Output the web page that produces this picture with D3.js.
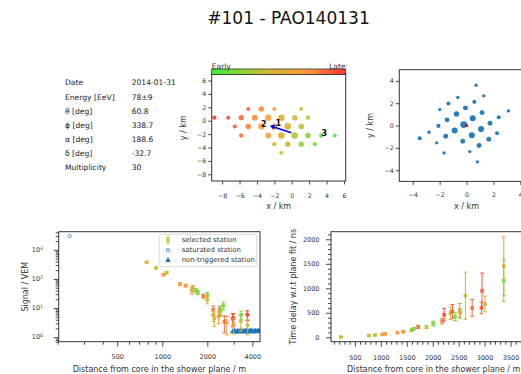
<!DOCTYPE html>
<html>
<head>
<meta charset="utf-8">
<script src="https://cdn.jsdelivr.net/npm/d3@7"></script>
<style>
  body { margin: 0; background: #fff; }
  svg { font-family: "DejaVu Sans", sans-serif; }
</style>
</head>
<body>
<svg id="chart" width="521" height="374"></svg>
<script>
// ---------------- event summary ----------------
const eventTitle = "#101 - PAO140131";
const infoLabels = ["Date", "Energy [EeV]", "θ [deg]", "ϕ [deg]", "α [deg]", "δ [deg]", "Multiplicity"];
const infoValues = ["2014-01-31", "78±9", "60.8", "338.7", "188.6", "-32.7", "30"];

// ---------------- array map (ground coordinates, km) ----------------
const mapX = [-5.0, -3.5, -2.0, 1.1,
              -8.9, -7.3, -5.8, -4.25, -2.7, -1.2, 0.35, 1.85,
              -6.55, -5.0, -3.5, -2.0, -0.45, 1.1,
              -5.8, -2.7, -1.2, 0.35, 1.85, 3.4, 4.95,
              -2.0, -0.45, 1.1, 2.65,
              -1.2];
const mapY = [1.75, 1.75, 1.75, 1.75,
              0.45, 0.45, 0.45, 0.45, 0.45, 0.45, 0.45, 0.45,
              -0.85, -0.85, -0.85, -0.85, -0.85, -0.85,
              -2.2, -2.2, -2.2, -2.2, -2.2, -2.2, -2.2,
              -3.5, -3.5, -3.5, -3.5,
              -4.8];
const mapSignal = [5, 30, 4, 4,
                   6, 4, 25, 45, 110, 130, 30, 5,
                   4, 30, 90, 40, 160, 35,
                   8, 45, 150, 130, 30, 8, 4,
                   5, 25, 25, 6,
                   4];
// relative arrival time: 0 = early, 1 = late
const mapTime = [0.86, 0.74, 0.70, 0.42,
                 1.00, 0.94, 0.84, 0.76, 0.68, 0.58, 0.46, 0.34,
                 0.90, 0.78, 0.70, 0.64, 0.50, 0.36,
                 0.82, 0.66, 0.52, 0.32, 0.22, 0.12, 0.02,
                 0.48, 0.38, 0.24, 0.14,
                 0.44];
const mapTickValues = [-8, -6, -4, -2, 0, 2, 4, 6];
const axisStart = [-0.04, -1.8];   // shower axis projection (tail)
const axisEnd = [-2.53, -0.75];    // shower axis projection (head)
const mapMarkers = [{ t: "1", x: -1.55, y: -0.4 }, { t: "2", x: -3.2, y: -0.5 }, { t: "3", x: 3.75, y: -1.8 }];

// ---------------- shower plane coordinates (km) ----------------
const planeX = [0.71, 1.28, -0.65, -1.35, 0.58, -1.99, -0.08, -0.75, 1.15, -1.45, 0.46, 2.39, 3.11, -2.09, -0.21,
                1.08, 1.75, -0.88, 0.39, -2.79, -3.48, -1.55, -0.28, 1.65, 2.27, -2.22, 0.93, -1.67, 0.24, 0.81];
const planeY = [3.61, 2.66, 2.51, 1.97, 2.12, 1.43, 1.58, 1.04, 1.16, 0.51, 0.66, 0.75, 1.31, -0.03, 0.09,
                -0.30, 0.21, -0.45, -0.87, -0.60, -1.13, -0.96, -1.40, -1.22, -0.69, -1.55, -1.79, -2.45, -2.33, -3.25];
const planeSignal = [4, 4, 4, 10, 10, 4, 30, 60, 30, 30, 130, 10, 4, 10, 380,
                     130, 30, 130, 130, 4, 10, 30, 30, 30, 10, 4, 30, 4, 4, 4];
const planeCore = [0, 0];
const planeTickValues = [-4, -2, 0, 2, 4];

// ---------------- lateral distribution ----------------
const ldfDist   = [786, 908, 1020, 1070, 1313, 1432, 1580, 1600, 1680, 1730, 1880, 2000, 2000, 2190, 2200,
                   2230, 2380, 2420, 2460, 2560, 2600, 2700, 2950, 2990, 3000, 3350, 3370, 3700, 3720];
const ldfSignal = [375, 240, 141, 165, 67, 59, 40, 52, 40, 35, 26, 27, 19, 8.7, 5.9,
                   4.5, 5.1, 8.7, 8.0, 12.3, 3.4, 3.2, 4.3, 4.5, 2.8, 3.6, 5.9, 5.9, 2.6];
const ldfError  = [10, 8, 12, 14, 7, 6, 10, 8, 6, 6, 4, 7, 5, 3, 2.5,
                   2.2, 2.2, 3, 2.8, 3.5, 2, 2, 2, 2, 1.5, 2, 2, 2.2, 1.4];
const ldfTime   = [0.45, 0.42, 0.72, 0.36, 0.70, 0.72, 0.74, 0.48, 0.20, 0.18, 0.80, 0.15, 0.42, 0.86, 0.50,
                   0.45, 0.70, 0.82, 0.20, 0.12, 0.86, 0.70, 0.88, 0.96, 0.68, 0.45, 0.15, 0.98, 0.46];
const saturatedDist = [240];
const saturatedSignal = [2950];
const silentDist   = [2960, 3040, 3110, 3190, 3260, 3340, 3410, 3490, 3570, 3640, 3720, 3800, 3880, 3960, 4040, 4120, 4200, 4280, 4370, 4460];
const silentSignal = [1.60, 1.72, 1.55, 1.66, 1.60, 1.75, 1.56, 1.66, 1.60, 1.72, 1.56, 1.66, 1.62, 1.72, 1.56, 1.62, 1.68, 1.60, 1.70, 1.62];
const ldfXTicks = [500, 1000, 2000, 4000];
const ldfXMinor = [200, 300, 400, 600, 700, 800, 900, 3000];
const ldfYTicks = [1, 10, 100, 1000];
const legendLabels = ["selected station", "saturated station", "non-triggered station"];

// ---------------- time residuals ----------------
const timeDist  = [230, 770, 890, 1030, 1080, 1320, 1430, 1590, 1640, 1720, 1880, 2010, 2180, 2220, 2340,
                   2380, 2430, 2520, 2530, 2630, 2760, 2940, 2950, 3010, 3370, 3370];
const timeDelay = [5, 35, 45, 60, 70, 95, 115, 145, 175, 210, 210, 280, 330, 460, 490,
                   530, 420, 540, 500, 850, 600, 600, 950, 680, 1450, 1160];
const timeError = [12, 15, 15, 18, 18, 20, 22, 25, 25, 30, 30, 50, 55, 130, 130,
                   140, 80, 150, 90, 480, 170, 120, 360, 160, 600, 430];
const timeTime  = [0.44, 0.42, 0.36, 0.70, 0.72, 0.70, 0.72, 0.22, 0.20, 0.82, 0.36, 0.18, 0.76, 0.94, 0.44,
                   0.90, 0.16, 0.14, 0.70, 0.46, 0.84, 0.86, 0.90, 0.46, 0.70, 0.16];
const timeXTicks = [500, 1000, 1500, 2000, 2500, 3000, 3500];
const timeYTicks = [0, 500, 1000, 1500, 2000];

// ================= drawing =================
const svg = d3.select("#chart");
const FONT = "DejaVu Sans, sans-serif";
const INK = "#333";
const BLUE = "#1f77b4";
const plain = d3.format("d");

const timeColor = d3.scaleLinear()
  .domain([0, 0.4, 0.7, 1])
  .range(["#3cf03c", "#c8bc32", "#ff9a3a", "#ff3434"])
  .interpolate(d3.interpolateRgb);

const defs = svg.append("defs");
function clip(id, x0, y0, x1, y1) {
  defs.append("clipPath").attr("id", id)
    .append("rect").attr("x", x0).attr("y", y0).attr("width", x1 - x0).attr("height", y1 - y0);
  return "url(#" + id + ")";
}
function frame(x0, y0, x1, y1) {
  svg.append("rect").attr("x", x0).attr("y", y0).attr("width", x1 - x0).attr("height", y1 - y0)
    .attr("fill", "none").attr("stroke", INK).attr("stroke-width", 1);
}
function styleAxis(g, fs) {
  g.select(".domain").remove();
  g.selectAll(".tick line").attr("stroke", INK).attr("stroke-width", 0.9);
  g.selectAll(".tick text").attr("fill", INK).attr("font-size", fs).attr("font-family", FONT);
}
function label(text, x, y, fs, rotate) {
  const t = svg.append("text").text(text).attr("font-size", fs).attr("fill", INK)
    .attr("text-anchor", "middle").attr("font-family", FONT);
  if (rotate) t.attr("transform", `translate(${x},${y}) rotate(-90)`);
  else t.attr("x", x).attr("y", y);
  return t;
}

// ---- title ----
svg.append("text").text(eventTitle).attr("x", 288.5).attr("y", 24)
  .attr("text-anchor", "middle").attr("font-size", 17).attr("fill", "#111");

// ---- info table ----
infoLabels.forEach((l, i) => {
  svg.append("text").text(l).attr("x", 65).attr("y", 85.4 + i * 14.17)
    .attr("font-size", 7.6).attr("fill", "#222");
  svg.append("text").text(infoValues[i]).attr("x", 131.7).attr("y", 85.4 + i * 14.17)
    .attr("font-size", 7.6).attr("fill", "#222");
});

// ---- array map ----
{
  const L = 211.7, R = 345.7, T = 74.5, B = 181;
  const x = d3.scaleLinear().domain([-9.2, 6.2]).range([L, R]);
  const y = d3.scaleLinear().domain([-9, 6.9]).range([B, T]);
  const r = d3.scaleLog().domain([3, 200]).range([1.9, 3.4]).clamp(true);
  const g = svg.append("g").attr("clip-path", clip("clipMap", L, T, R, B));
  const idx = d3.range(mapX.length);
  g.selectAll("circle").data(idx).join("circle")
    .attr("cx", i => x(mapX[i])).attr("cy", i => y(mapY[i]))
    .attr("r", i => r(mapSignal[i]))
    .attr("fill", i => timeColor(mapTime[i])).attr("fill-opacity", 0.9);

  // shower axis arrow
  const x0 = x(axisStart[0]), y0 = y(axisStart[1]), x1 = x(axisEnd[0]), y1 = y(axisEnd[1]);
  const ang = Math.atan2(y1 - y0, x1 - x0), hl = 5, hw = 2.6;
  const bx = x1 - hl * Math.cos(ang), by = y1 - hl * Math.sin(ang);
  g.append("line").attr("x1", x0).attr("y1", y0).attr("x2", bx).attr("y2", by)
    .attr("stroke", "#0000ee").attr("stroke-width", 1.6);
  g.append("path").attr("fill", "#0000ee").attr("d",
    `M${x1},${y1}L${bx - hw * Math.sin(ang)},${by + hw * Math.cos(ang)}L${bx + hw * Math.sin(ang)},${by - hw * Math.cos(ang)}Z`);
  mapMarkers.forEach(m => {
    g.append("text").text(m.t).attr("x", x(m.x)).attr("y", y(m.y) + 3)
      .attr("text-anchor", "middle").attr("font-size", 8).attr("font-weight", "bold").attr("fill", "#111");
  });

  styleAxis(svg.append("g").attr("transform", `translate(0,${B})`)
    .call(d3.axisBottom(x).tickValues(mapTickValues).tickSize(3.5).tickPadding(9).tickSizeOuter(0)), 6.3);
  styleAxis(svg.append("g").attr("transform", `translate(${L},0)`)
    .call(d3.axisLeft(y).tickValues(mapTickValues).tickSize(3.5).tickPadding(2).tickSizeOuter(0)), 6.3);
  frame(L, T, R, B);
  label("x / km", (L + R) / 2, 209, 8);
  label("y / km", 186, (T + B) / 2, 8, true);

  // colour bar
  const grad = defs.append("linearGradient").attr("id", "timeGrad");
  d3.range(0, 1.0001, 0.05).forEach(s => grad.append("stop")
    .attr("offset", s).attr("stop-color", timeColor(s)));
  svg.append("rect").attr("x", L).attr("y", 69).attr("width", R - L).attr("height", 5.5)
    .attr("fill", "url(#timeGrad)").attr("stroke", "#333").attr("stroke-width", 0.8);
  svg.append("text").text("Early").attr("x", L).attr("y", 68.5).attr("font-size", 7.6).attr("fill", INK);
  svg.append("text").text("Late").attr("x", R).attr("y", 68.5).attr("font-size", 7.6)
    .attr("fill", INK).attr("text-anchor", "end");
}

// ---- shower plane ----
{
  const L = 399.3, R = 533.8, T = 69.7, B = 181.4;
  const x = d3.scaleLinear().domain([-5, 5]).range([L, R]);
  const y = d3.scaleLinear().domain([-5, 5]).range([B, T]);
  const r = d3.scaleLog().domain([4, 380]).range([1.7, 3.4]).clamp(true);
  const g = svg.append("g").attr("clip-path", clip("clipPlane", L, T, R, B));
  const idx = d3.range(planeX.length);
  g.selectAll("circle").data(idx).join("circle")
    .attr("cx", i => x(planeX[i])).attr("cy", i => y(planeY[i]))
    .attr("r", i => r(planeSignal[i])).attr("fill", BLUE).attr("fill-opacity", 0.95);
  g.append("rect").attr("x", x(planeCore[0]) - 1.4).attr("y", y(planeCore[1]) - 1.4)
    .attr("width", 2.8).attr("height", 2.8).attr("fill", "#ff0000");

  styleAxis(svg.append("g").attr("transform", `translate(0,${B})`)
    .call(d3.axisBottom(x).tickValues(planeTickValues).tickSize(3.5).tickPadding(8).tickSizeOuter(0)), 6.3);
  styleAxis(svg.append("g").attr("transform", `translate(${L},0)`)
    .call(d3.axisLeft(y).tickValues(planeTickValues).tickSize(3.5).tickPadding(2).tickSizeOuter(0)), 6.3);
  frame(L, T, R, B);
  label("x / km", (L + R) / 2, 209, 8);
  label("y / km", 373, (T + B) / 2, 8, true);
}

// ---- lateral distribution ----
{
  const L = 58.7, R = 260, T = 231.7, B = 341.7;
  const x = d3.scaleLog().domain([203, 4500]).range([L, R]);
  const y = d3.scaleLog().domain([0.7, 4200]).range([B, T]);
  const g = svg.append("g").attr("clip-path", clip("clipLdf", L, T, R, B));

  // non-triggered stations
  g.selectAll("path.silent").data(d3.range(silentDist.length)).join("path").attr("class", "silent")
    .attr("d", i => { const cx = x(silentDist[i]), cy = y(silentSignal[i]);
      return `M${cx},${cy - 3}L${cx + 2.8},${cy + 2}L${cx - 2.8},${cy + 2}Z`; })
    .attr("fill", BLUE);

  // selected stations with error bars
  const idx = d3.range(ldfDist.length);
  const eb = g.selectAll("g.sel").data(idx).join("g").attr("class", "sel")
    .attr("stroke", i => timeColor(ldfTime[i])).attr("stroke-width", 1);
  eb.append("line").attr("x1", i => x(ldfDist[i])).attr("x2", i => x(ldfDist[i]))
    .attr("y1", i => y(Math.max(0.5, ldfSignal[i] - ldfError[i]))).attr("y2", i => y(ldfSignal[i] + ldfError[i]));
  [-1, 1].forEach(s => eb.append("line")
    .attr("x1", i => x(ldfDist[i]) - 2).attr("x2", i => x(ldfDist[i]) + 2)
    .attr("y1", i => y(Math.max(0.5, ldfSignal[i] + s * ldfError[i])))
    .attr("y2", i => y(Math.max(0.5, ldfSignal[i] + s * ldfError[i]))));
  eb.append("rect").attr("x", i => x(ldfDist[i]) - 1.8).attr("y", i => y(ldfSignal[i]) - 1.8)
    .attr("width", 3.6).attr("height", 3.6).attr("stroke", "none")
    .attr("fill", i => timeColor(ldfTime[i])).attr("fill-opacity", 0.9);

  // saturated station
  g.selectAll("circle.sat").data(d3.range(saturatedDist.length)).join("circle").attr("class", "sat")
    .attr("cx", i => x(saturatedDist[i])).attr("cy", i => y(saturatedSignal[i])).attr("r", 1.7)
    .attr("fill", "none").attr("stroke", "#4a8fc9").attr("stroke-width", 0.9);

  // axes
  const xa = svg.append("g").attr("transform", `translate(0,${B})`)
    .call(d3.axisBottom(x).tickValues(ldfXTicks).tickFormat(plain).tickSize(5).tickPadding(8).tickSizeOuter(0));
  styleAxis(xa, 6.5);
  const xm = svg.append("g").attr("transform", `translate(0,${B})`)
    .call(d3.axisBottom(x).tickValues(ldfXMinor).tickFormat("").tickSize(3).tickSizeOuter(0));
  styleAxis(xm, 6.5);

  const minors = [];
  for (let e = -1; e <= 3; e++) for (let k = 2; k <= 9; k++) {
    const v = k * Math.pow(10, e); if (v > 0.7 && v < 4200) minors.push(v);
  }
  styleAxis(svg.append("g").attr("transform", `translate(${L},0)`)
    .call(d3.axisLeft(y).tickValues(minors).tickFormat("").tickSize(3).tickSizeOuter(0)), 6.5);
  const ya = svg.append("g").attr("transform", `translate(${L},0)`)
    .call(d3.axisLeft(y).tickValues(ldfYTicks).tickFormat("").tickSize(5).tickSizeOuter(0));
  styleAxis(ya, 6.5);
  ldfYTicks.forEach(v => {
    const t = svg.append("text").attr("x", 43).attr("y", y(v) + 2.3).attr("text-anchor", "end")
      .attr("font-size", 6.5).attr("fill", INK);
    t.append("tspan").text("10");
    t.append("tspan").text(String(Math.round(Math.log10(v)))).attr("font-size", 4.6).attr("dy", -2.6);
  });
  frame(L, T, R, B);
  label("Distance from core in the shower plane / m", (L + R) / 2, 371.5, 8);
  label("Signal / VEM", 28, (T + B) / 2, 8, true);

  // legend
  const lg = svg.append("g");
  lg.append("rect").attr("x", 159.3).attr("y", 234.3).attr("width", 97.4).attr("height", 32.4)
    .attr("rx", 2).attr("fill", "#fff").attr("fill-opacity", 0.85).attr("stroke", "#d0d0d0").attr("stroke-width", 0.8);
  const lc = timeColor(0.44);
  lg.append("line").attr("x1", 168).attr("x2", 168).attr("y1", 237).attr("y2", 243).attr("stroke", lc);
  lg.append("line").attr("x1", 166).attr("x2", 170).attr("y1", 237).attr("y2", 237).attr("stroke", lc);
  lg.append("line").attr("x1", 166).attr("x2", 170).attr("y1", 243).attr("y2", 243).attr("stroke", lc);
  lg.append("rect").attr("x", 166.5).attr("y", 238.5).attr("width", 3).attr("height", 3).attr("fill", lc);
  lg.append("circle").attr("cx", 168).attr("cy", 250).attr("r", 1.6).attr("fill", "none")
    .attr("stroke", "#4a8fc9").attr("stroke-width", 0.9);
  lg.append("path").attr("d", "M168,257L170.8,262L165.2,262Z").attr("fill", BLUE);
  legendLabels.forEach((l, i) => lg.append("text").text(l).attr("x", 181.7).attr("y", 242.4 + i * 10)
    .attr("font-size", 6.9).attr("fill", INK));
}

// ---- time residuals ----
{
  const L = 331, R = 536.5, T = 231.7, B = 341.7;
  const x = d3.scaleLinear().domain([40, 4000]).range([L, R]);
  const y = d3.scaleLinear().domain([-90, 2155]).range([B, T]);
  const g = svg.append("g").attr("clip-path", clip("clipTime", L, T, R, B));
  const idx = d3.range(timeDist.length);
  const eb = g.selectAll("g.sel").data(idx).join("g").attr("class", "sel")
    .attr("stroke", i => timeColor(timeTime[i])).attr("stroke-width", 1);
  eb.append("line").attr("x1", i => x(timeDist[i])).attr("x2", i => x(timeDist[i]))
    .attr("y1", i => y(timeDelay[i] - timeError[i])).attr("y2", i => y(timeDelay[i] + timeError[i]));
  [-1, 1].forEach(s => eb.append("line")
    .attr("x1", i => x(timeDist[i]) - 2).attr("x2", i => x(timeDist[i]) + 2)
    .attr("y1", i => y(timeDelay[i] + s * timeError[i])).attr("y2", i => y(timeDelay[i] + s * timeError[i])));
  eb.append("rect").attr("x", i => x(timeDist[i]) - 1.8).attr("y", i => y(timeDelay[i]) - 1.8)
    .attr("width", 3.6).attr("height", 3.6).attr("stroke", "none")
    .attr("fill", i => timeColor(timeTime[i])).attr("fill-opacity", 0.9);

  const xMinor = d3.range(100, 4000, 100).filter(v => v % 500 !== 0);
  const yMinor = d3.range(0, 2101, 100).filter(v => v % 500 !== 0);
  styleAxis(svg.append("g").attr("transform", `translate(0,${B})`)
    .call(d3.axisBottom(x).tickValues(xMinor).tickFormat("").tickSize(3).tickSizeOuter(0)), 6.5);
  styleAxis(svg.append("g").attr("transform", `translate(0,${B})`)
    .call(d3.axisBottom(x).tickValues(timeXTicks).tickFormat(plain).tickSize(5).tickPadding(9).tickSizeOuter(0)), 6.5);
  styleAxis(svg.append("g").attr("transform", `translate(${L},0)`)
    .call(d3.axisLeft(y).tickValues(yMinor).tickFormat("").tickSize(3).tickSizeOuter(0)), 6.5);
  styleAxis(svg.append("g").attr("transform", `translate(${L},0)`)
    .call(d3.axisLeft(y).tickValues(timeYTicks).tickFormat(plain).tickSize(5).tickPadding(6.5).tickSizeOuter(0)), 6.5);
  frame(L, T, R, B);
  label("Distance from core in the shower plane / m", (L + R) / 2, 371.5, 8);
  label("Time delay w.r.t plane fit / ns", 296, (T + B) / 2, 8, true);
}
</script>
</body>
</html>
